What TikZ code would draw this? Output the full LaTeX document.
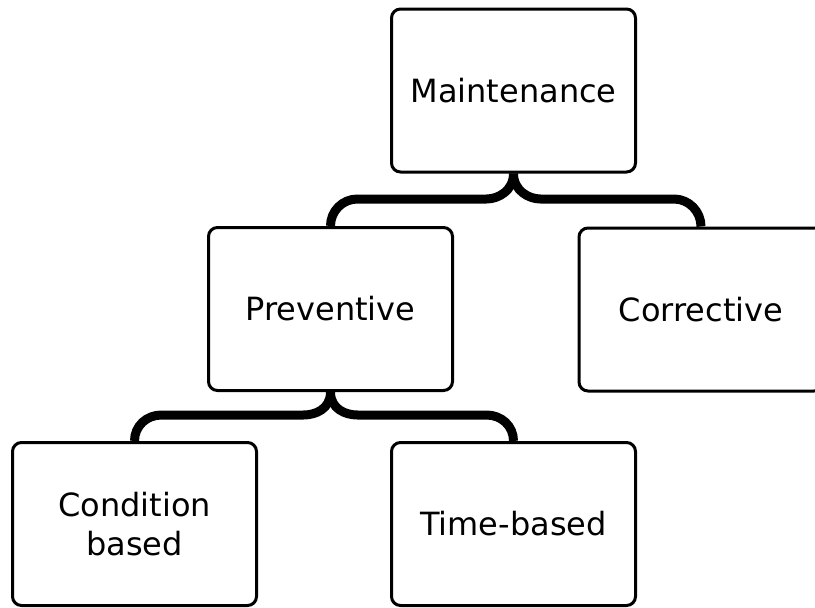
\documentclass[tikz,border=0pt]{standalone}
\usepackage{fontspec}
\setmainfont{DejaVu Sans}
\usetikzlibrary{calc}
\begin{document}
\begin{tikzpicture}[x=1pt,y=-1pt,
  box/.style={draw=black,line width=3pt,rounded corners=9pt,fill=white,
    minimum width=244pt,minimum height=163pt,inner sep=0pt,align=center,
    font=\fontsize{32}{39}\selectfont},
  brace/.style={draw=black,line width=9pt}]
\useasboundingbox (0,0) rectangle (815,608);
\begin{scope}
\clip (0,0) rectangle (815,608);
\node[box] (M) at (513.5,90.5) {Maintenance};
\node[box] (P) at (330.5,309) {Preventive};
\node[box] (C) at (701,309.5) {Corrective};
\node[box] (D) at (134.5,524) {Condition\\based};
\node[box] (T) at (513.5,524) {Time-based};
\coordinate (b1) at (0,199);
\coordinate (b2) at (0,415);
% upper brace
\draw[brace] (M.south) .. controls +(0,17) and +(12,0) .. ($(M.south|-b1)+(-27,0)$)
  -- ($(P.north|-b1)+(27,0)$) .. controls +(-15,0) and +(0,-15) .. (P.north);
\draw[brace] (M.south) .. controls +(0,17) and +(-12,0) .. ($(M.south|-b1)+(27,0)$)
  -- ($(C.north|-b1)+(-27,0)$) .. controls +(15,0) and +(0,-15) .. (C.north);
% lower brace
\draw[brace] (P.south) .. controls +(0,17) and +(12,0) .. ($(P.south|-b2)+(-27,0)$)
  -- ($(D.north|-b2)+(27,0)$) .. controls +(-15,0) and +(0,-15) .. (D.north);
\draw[brace] (P.south) .. controls +(0,17) and +(-12,0) .. ($(P.south|-b2)+(27,0)$)
  -- ($(T.north|-b2)+(-27,0)$) .. controls +(15,0) and +(0,-15) .. (T.north);
\end{scope}
\end{tikzpicture}
\end{document}
